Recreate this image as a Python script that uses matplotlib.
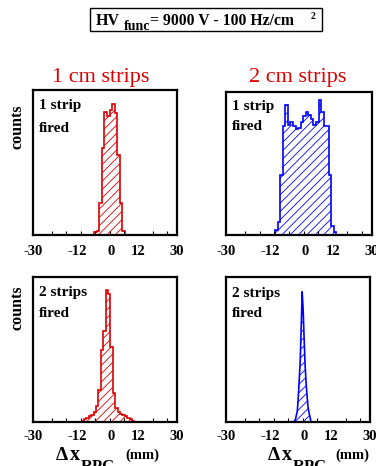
import numpy as np
import matplotlib
matplotlib.use('Agg')
import matplotlib.pyplot as plt
from matplotlib.patches import Rectangle

# ---------------------------------------------------------
# datos (cuentas relativas, 1 = alto del cuadro)
# ---------------------------------------------------------
# 1 cm strips, 1 strip fired
inicio_1cm_1s = -4.3
ancho_1cm_1s = 1.05
cuentas_1cm_1s = [0.02, 0.03, 0.22, 0.60, 0.85, 0.82, 0.86, 0.90, 0.84, 0.55, 0.22, 0.03]

# 2 cm strips, 1 strip fired
inicio_2cm_1s = -9.7
ancho_2cm_1s = 1.05
cuentas_2cm_1s = [0.035, 0.09, 0.42, 0.76, 0.91, 0.77, 0.79, 0.76, 0.74, 0.75, 0.79, 0.83,
                  0.86, 0.84, 0.81, 0.77, 0.79, 0.94, 0.86, 0.76, 0.76, 0.42, 0.06, 0.02]

# 1 cm strips, 2 strips fired
inicio_1cm_2s = -9.6
ancho_1cm_2s = 1.0
cuentas_1cm_2s = [0.01, 0.02, 0.03, 0.04, 0.05, 0.07, 0.11, 0.22, 0.50, 0.63, 0.91, 0.88,
                  0.52, 0.20, 0.10, 0.07, 0.06, 0.05, 0.04, 0.03, 0.02, 0.01]

# 2 cm strips, 2 strips fired (dibujado como curva por los centros)
centros_2cm_2s = [-1.4, -1.0, -0.6, -0.2, 0.2, 0.6, 1.0, 1.4, 1.8, 2.2, 2.6, 3.0,
                  3.4, 3.8, 4.2, 4.6, 5.0, 5.4]
cuentas_2cm_2s = [0.01, 0.02, 0.05, 0.08, 0.18, 0.30, 0.43, 0.66, 0.90, 0.78, 0.58, 0.40,
                  0.28, 0.19, 0.11, 0.07, 0.04, 0.01]

# ejes x (las etiquetas no caen parejas en el original)
pos_etiquetas = [-30, -11.5, 2.5, 14, 30]
etiquetas = ['-30', '-12', '0', '12', '30']
marcas_menores = [-22, -16, -10, -4, 2, 8, 14, 20, 26]

titulos = ['1 cm strips', '2 cm strips']

ROJO = '#dd0000'
AZUL = '#0000ff'
SERIF = 'Liberation Serif'

plt.rcParams['font.family'] = SERIF
plt.rcParams['hatch.linewidth'] = 0.6

fig = plt.figure(figsize=(3.76, 4.66), dpi=100)

# posiciones de los 4 cuadros [izq, abajo, ancho, alto]
ax_tl = fig.add_axes([32.7/376, 1-235/466, 144/376, 145/466])
ax_tr = fig.add_axes([225.7/376, 1-235/466, 146/376, 143.3/466])
ax_bl = fig.add_axes([32.7/376, 1-422.3/466, 144/376, 145.6/466])
ax_br = fig.add_axes([225.7/376, 1-422.3/466, 144.3/376, 145/466])


def histo(ax, inicio, ancho, cuentas, color):
    bordes = inicio + ancho*np.arange(len(cuentas)+1)
    ax.stairs(cuentas, bordes, fill=True, facecolor='none', edgecolor=color,
              hatch='////', linewidth=0)
    ax.stairs(cuentas, bordes, baseline=0, color=color, linewidth=1.2)


histo(ax_tl, inicio_1cm_1s, ancho_1cm_1s, cuentas_1cm_1s, ROJO)
histo(ax_tr, inicio_2cm_1s, ancho_2cm_1s, cuentas_2cm_1s, AZUL)
histo(ax_bl, inicio_1cm_2s, ancho_1cm_2s, cuentas_1cm_2s, ROJO)

ax_br.fill_between(centros_2cm_2s, cuentas_2cm_2s, 0, facecolor='none', edgecolor=AZUL,
                   hatch='////', linewidth=0)
ax_br.plot(centros_2cm_2s, cuentas_2cm_2s, color=AZUL, linewidth=1.2)

textos = {ax_tl: ('1 strip', 'fired', 0.046, 0.867, 0.712),
          ax_tr: ('1 strip', 'fired', 0.041, 0.872, 0.733),
          ax_bl: ('2 strips', 'fired', 0.046, 0.867, 0.725),
          ax_br: ('2 strips', 'fired', 0.041, 0.866, 0.728)}

for ax, (t1, t2, xt, y1, y2) in textos.items():
    ax.set_xlim(-30, 30)
    ax.set_ylim(0, 1)
    ax.set_yticks([])
    ax.set_xticks(pos_etiquetas)
    ax.set_xticklabels(etiquetas, fontsize=10.5, fontweight='bold')
    ax.set_xticks(marcas_menores, minor=True)
    ax.tick_params(axis='x', which='major', length=0)
    ax.tick_params(axis='x', which='minor', direction='in', length=3, width=0.8)
    for s in ax.spines.values():
        s.set_linewidth(1.6)
    ax.text(xt, y1, t1, transform=ax.transAxes, fontsize=11, fontweight='bold',
            va='baseline')
    ax.text(xt, y2, t2, transform=ax.transAxes, fontsize=11, fontweight='bold',
            va='baseline')

ax_tl.tick_params(axis='x', which='major', pad=7.3)
ax_tr.tick_params(axis='x', which='major', pad=7.3)
ax_bl.tick_params(axis='x', which='major', pad=5.6)
ax_br.tick_params(axis='x', which='major', pad=5.6)

# titulos en rojo
fig.text(100.3/376, 1-82/466, titulos[0], color=ROJO, fontsize=16, ha='center', va='baseline')
fig.text(297.5/376, 1-82/466, titulos[1], color=ROJO, fontsize=16, ha='center', va='baseline')

# "counts"
for yc in [127, 308]:
    fig.text(18/376, 1-yc/466, 'counts', rotation=90, fontsize=11.5, fontweight='bold',
             ha='center', va='center')

# etiqueta del eje x
for x_d, x_x, x_r, x_mm in [(56, 70, 81, 125), (268, 282, 293, 335)]:
    fig.text(x_d/376, 1-460/466, '\u0394', fontsize=14, fontweight='bold', va='baseline')
    fig.text(x_x/376, 1-460/466, 'x', fontsize=14.5, fontweight='bold', va='baseline')
    fig.text(x_r/376, 1-471/466, 'RPC', fontsize=12, fontweight='bold', va='baseline')
    fig.text(x_mm/376, 1-459/466, '(mm)', fontsize=10.5, fontweight='bold', va='baseline')

# recuadro de arriba
fig.patches.append(Rectangle((90/376, 1-31/466), 232.3/376, 22.7/466, transform=fig.transFigure,
                             facecolor='white', edgecolor='black', linewidth=1.0))
fig.text(96/376, 1-25/466, 'HV', fontsize=11.5, fontweight='bold', va='baseline')
fig.text(124/376, 1-30/466, 'func', fontsize=10, fontweight='bold', va='baseline')
fig.text(150/376, 1-25/466, '= 9000 V - 100 Hz/cm', fontsize=11.3, fontweight='bold',
         va='baseline')
fig.text(313/376, 1-16.7/466, '2', fontsize=7, fontweight='bold', ha='center', va='center')

fig.savefig('out.png', dpi=100)
